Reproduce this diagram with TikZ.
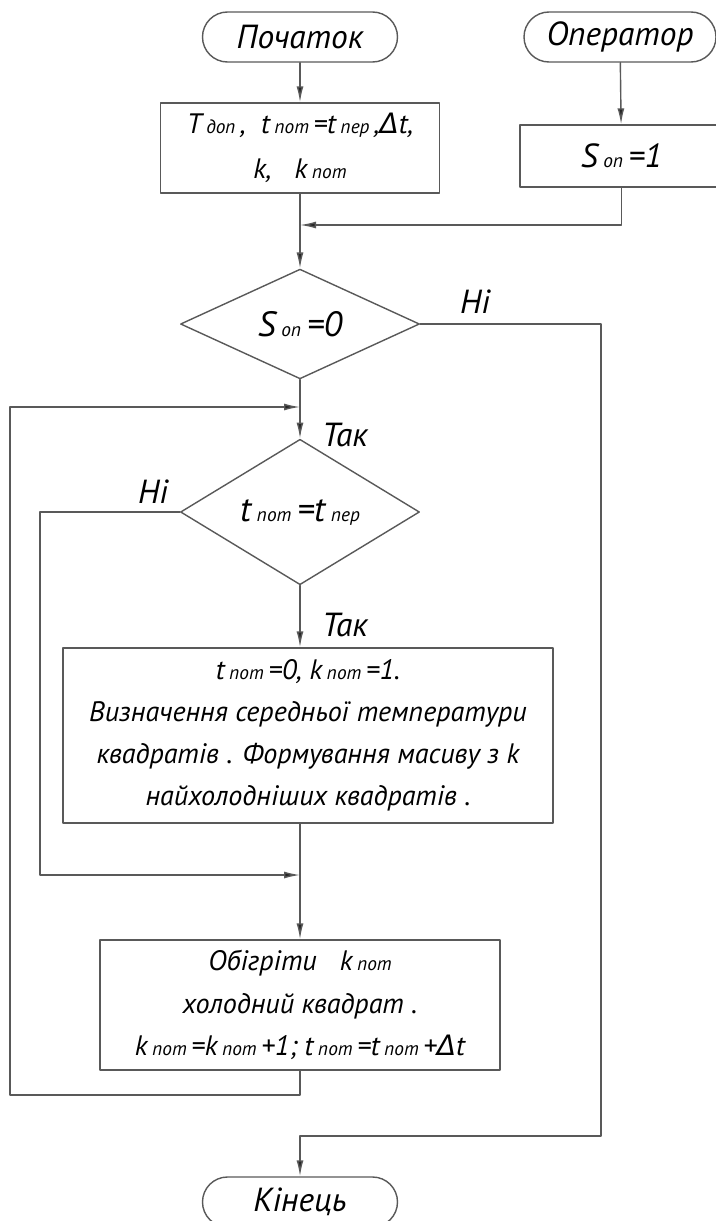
\documentclass[tikz,border=0pt]{standalone}
\usepackage{fontspec}
\setmainfont{PT Sans}
\newfontfamily\grk{DejaVu Sans}
\usetikzlibrary{shapes.geometric,arrows.meta}
\newcommand\idx[1]{{\fontsize{11}{12}\selectfont #1}}
\newcommand\dlt{{\grk\itshape Δ}}
\begin{document}
\begin{tikzpicture}[line cap=round, line join=round,
    term/.style={draw=black!65, line width=0.8pt, rounded corners=0.5cm, minimum width=3.9cm,
      minimum height=1cm, inner sep=0pt, font=\itshape\fontsize{19}{22}\selectfont},
    blk/.style={draw=black!65, line width=0.8pt, align=center, inner sep=0pt,
      font=\itshape\fontsize{16}{24}\selectfont},
    cond/.style={diamond, draw=black!65, line width=0.8pt, inner sep=0pt, minimum width=4.78cm,
      minimum height=2.04cm, font=\itshape\fontsize{20}{22}\selectfont},
    lbl/.style={inner sep=0pt, font=\itshape\fontsize{19}{22}\selectfont},
    line/.style={draw=black!65, line width=0.8pt},
    arr/.style={line, -{Latex[length=3.2mm,width=1.4mm,fill=black!85]}}]
  \useasboundingbox (0,0) rectangle (14.32,-24.42);
  % початок і оператор
  \node[term] (start) at (6.0,-0.74) {Початок};
  \node[term, minimum width=3.84cm] (oper) at (12.4,-0.74) {Оператор};
  \node[blk, minimum width=5.58cm, minimum height=1.8cm, font=\itshape\fontsize{16}{25.5}\selectfont]
    (init) at (6.0,-2.96) {T\,\idx{доп}\,,\; t\,\idx{пот}\,=t\,\idx{пер}\,,\dlt t,\\k,\;\; k\,\idx{пот}};
  \node[blk, minimum width=4.06cm, minimum height=1.24cm, font=\itshape\fontsize{19}{22}\selectfont]
    (son1) at (12.43,-3.12) {S\,\idx{оп}\,=1};
  \coordinate (m1) at (6.0,-4.5);
  \draw[arr] (start) -- (init);
  \draw[arr] (oper) -- (son1);
  \draw[arr] (son1.south) |- (m1);
  % перевірка оператора
  \node[cond] (dec1) at (6.0,-6.48) {S\,\idx{оп}\,=0};
  \node[lbl] (no1) at (9.5,-6.04) {Ні};
  \draw[arr] (init) -- (dec1);
  % цикл
  \coordinate (lp2) at (6.0,-8.14);
  \node[lbl] (yes1) at (6.9,-8.7) {Так};
  \node[cond] (dec2) at (6.0,-10.24) {t\,\idx{пот}\,=t\,\idx{пер}};
  \node[lbl] (no2) at (3.06,-9.84) {Ні};
  \draw[arr] (dec1) -- (dec2);
  \node[lbl] (yes2) at (6.9,-12.5) {Так};
  \node[blk, minimum width=9.8cm, minimum height=3.5cm] (sel) at (6.16,-14.71)
    {t\,\idx{пот}\,=0, k\,\idx{пот}\,=1.\\Визначення середньої температури\\
     квадратів . Формування масиву з k\\найхолодніших квадратів .};
  \draw[arr] (dec2) -- (dec2.south |- sel.north);
  \coordinate (lp3) at (0.8,-17.5);
  \coordinate (m2) at (6.0,-17.5);
  \draw[arr] (dec2.west) -| (lp3) -- (m2);
  \node[blk, minimum width=8.0cm, minimum height=2.6cm] (heat) at (6.0,-20.1)
    {Обігріти\;\; k\,\idx{пот}\\холодний квадрат .\\
     k\,\idx{пот}\,=k\,\idx{пот}\,+1; t\,\idx{пот}\,=t\,\idx{пот}\,+\dlt t};
  \draw[arr] (sel.south -| heat.north) -- (heat);
  \coordinate (lp1) at (0.2,-21.9);
  \draw[arr] (heat.south) |- (lp1) |- (lp2);
  % кінець
  \node[term] (fin) at (6.0,-24.04) {Кінець};
  \coordinate (rp) at (12.02,-22.72);
  \coordinate (ep) at (6.0,-22.72);
  \draw[arr] (dec1.east) -| (rp) -- (ep) -- (fin);
\end{tikzpicture}
\end{document}
